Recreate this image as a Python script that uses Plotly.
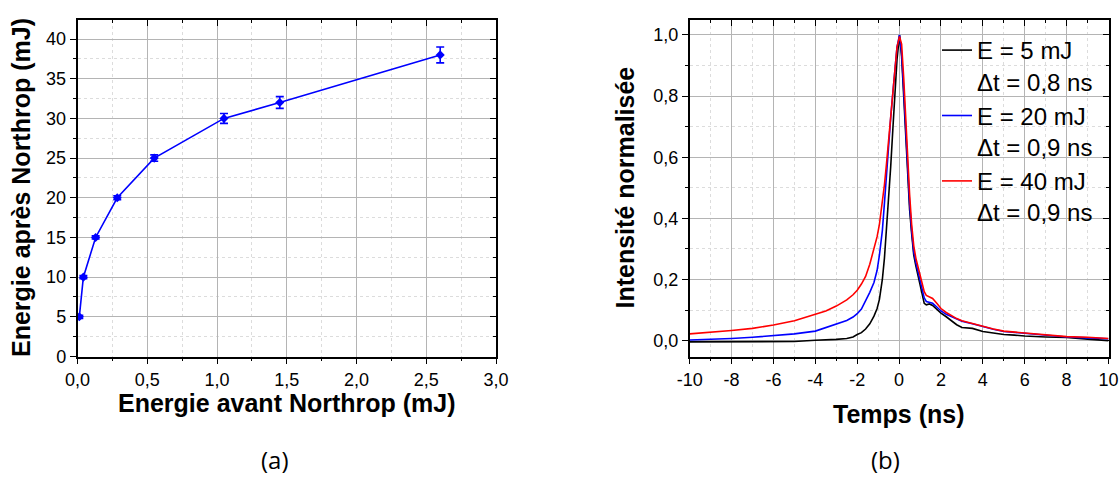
import plotly.graph_objects as go

# ---------------- Data: panel (a) ----------------
energie_avant = [0.013, 0.042, 0.13, 0.285, 0.55, 1.05, 1.45, 2.6]
energie_apres = [5, 10, 15, 20, 25, 30, 32, 38]
erreur_apres = [0.2, 0.2, 0.2, 0.25, 0.4, 0.62, 0.74, 1.0]

# ---------------- Data: panel (b) ----------------
temps = [-10, -9, -8, -7, -6, -5, -4, -3.5, -3, -2.5, -2.2, -2.0, -1.8, -1.6, -1.4,
         -1.2, -1.05, -0.94, -0.8, -0.7, -0.6, -0.5, -0.4, -0.3, -0.2, -0.1, 0.02,
         0.12, 0.22, 0.3, 0.4, 0.5, 0.6, 0.7, 0.8, 0.9, 1.0, 1.1, 1.2, 1.3, 1.45,
         1.6, 1.8, 2.0, 2.25, 2.5, 2.75, 3.0, 3.5, 4.0, 4.5, 5.0, 5.5, 6.0, 7.0,
         8.0, 9.0, 10.0]
int_5mJ = [-0.004, -0.004, -0.003, -0.003, -0.003, -0.003, 0.001, 0.002, 0.004, 0.007,
           0.012, 0.02, 0.026, 0.038, 0.055, 0.08, 0.105, 0.135, 0.2, 0.27, 0.36, 0.46,
           0.57, 0.69, 0.8, 0.92, 1.0, 0.93, 0.8, 0.68, 0.54, 0.43, 0.35, 0.28, 0.245,
           0.215, 0.19, 0.15, 0.122, 0.117, 0.12, 0.115, 0.102, 0.09, 0.078, 0.065,
           0.052, 0.043, 0.04, 0.03, 0.025, 0.02, 0.018, 0.015, 0.012, 0.01, 0.005, 0.0]
int_20mJ = [0.002, 0.004, 0.007, 0.011, 0.016, 0.022, 0.031, 0.042, 0.054, 0.066, 0.077,
            0.088, 0.103, 0.128, 0.158, 0.19, 0.23, 0.28, 0.36, 0.45, 0.55, 0.64, 0.73,
            0.81, 0.89, 0.96, 1.0, 0.94, 0.82, 0.7, 0.56, 0.45, 0.36, 0.29, 0.255,
            0.225, 0.2, 0.165, 0.14, 0.128, 0.124, 0.122, 0.11, 0.097, 0.086, 0.078,
            0.07, 0.063, 0.055, 0.045, 0.037, 0.03, 0.027, 0.022, 0.017, 0.012, 0.009,
            0.006]
int_40mJ = [0.022, 0.027, 0.033, 0.04, 0.051, 0.065, 0.086, 0.097, 0.113, 0.133, 0.15,
            0.165, 0.185, 0.21, 0.25, 0.3, 0.34, 0.38, 0.45, 0.51, 0.58, 0.66, 0.74,
            0.82, 0.9, 0.96, 0.995, 0.97, 0.86, 0.75, 0.6, 0.48, 0.38, 0.31, 0.27, 0.24,
            0.215, 0.185, 0.16, 0.148, 0.142, 0.138, 0.122, 0.105, 0.092, 0.082, 0.072,
            0.065, 0.056, 0.046, 0.038, 0.031, 0.028, 0.023, 0.018, 0.013, 0.011, 0.007]
noms_b = ["E = 5 mJ<br>Δt = 0,8 ns", "E = 20 mJ<br>Δt = 0,9 ns", "E = 40 mJ<br>Δt = 0,9 ns"]
couleurs_b = ["#000000", "#0000ff", "#ff0000"]
temps_ticks = [-10, -8, -6, -4, -2, 0, 2, 4, 6, 8, 10]
temps_labels = ["-10", "-8", "-6", "-4", "-2", "0", "2", "4", "6", "8", "10"]

W, H = 1120, 478
def px(x):
    return x / W
def py(y):
    return 1 - y / H

FONT = "Liberation Sans, Arial, sans-serif"

fig = go.Figure()

fig.add_trace(go.Scatter(
    x=energie_avant, y=energie_apres, mode="lines+markers",
    line=dict(color="#0000ff", width=1.6),
    marker=dict(symbol="diamond", size=7, color="#0000ff"),
    error_y=dict(type="data", array=erreur_apres, color="#0000ff", thickness=1.6, width=4),
    showlegend=False, xaxis="x", yaxis="y"))

for vals, nom, c in zip([int_5mJ, int_20mJ, int_40mJ], noms_b, couleurs_b):
    fig.add_trace(go.Scatter(x=temps, y=vals, mode="lines", name=nom,
                             line=dict(color=c, width=1.6), xaxis="x2", yaxis="y2"))

# empty traces so the overlay (mirror-tick) axes are drawn
fig.add_trace(go.Scatter(x=[], y=[], xaxis="x3", yaxis="y3", showlegend=False, hoverinfo="skip"))
fig.add_trace(go.Scatter(x=[], y=[], xaxis="x4", yaxis="y4", showlegend=False, hoverinfo="skip"))

dom_a = [px(77.5), px(496)]
dom_b = [px(689.7), px(1108.5)]
dom_y = [py(356.5), py(20)]

tickfont = dict(family=FONT, size=18, color="#000")
grid_major = "#b4b4b4"
grid_minor = "#dcdcdc"

def main_axis(rng, dtick, mdtick, dom, anchor, fmt=None):
    d = dict(range=rng, domain=dom, anchor=anchor, dtick=dtick, tick0=0,
             automargin=False,
             showline=True, linecolor="#000", linewidth=1.5, mirror=True,
             ticks="outside", ticklen=6, tickwidth=1.3, tickcolor="#000",
             tickfont=tickfont, showgrid=True, gridcolor=grid_major, gridwidth=1,
             zeroline=False,
             minor=dict(dtick=mdtick, ticks="outside", ticklen=3, tickwidth=1.2,
                        tickcolor="#000", showgrid=True, gridcolor=grid_minor,
                        griddash="dot", gridwidth=1))
    if fmt:
        d["tickformat"] = fmt
    return d

def mirror_axis(rng, dtick, mdtick, overlay, anchor, side):
    return dict(range=rng, overlaying=overlay, anchor=anchor, side=side, dtick=dtick,
                tick0=0, automargin=False, showline=False, ticks="inside", ticklen=6,
                tickwidth=1.3, tickcolor="#000", showticklabels=False, showgrid=False,
                zeroline=False,
                minor=dict(dtick=mdtick, ticks="inside", ticklen=3, tickwidth=1.2,
                           tickcolor="#000", showgrid=False))

xa_rng = [0, 3.0]
ya_rng = [0, 42.4]
xb_rng = [-10, 10]
yb_rng = [-0.052, 1.049]

xaxis2 = main_axis(xb_rng, 2, 1, dom_b, "y2")
xaxis2.update(tickmode="array", tickvals=temps_ticks, ticktext=temps_labels)

fig.update_layout(
    width=W, height=H, margin=dict(l=0, r=0, t=0, b=0, autoexpand=False),
    paper_bgcolor="white", plot_bgcolor="white", separators=", ",
    font=dict(family=FONT, color="#000"),
    xaxis=main_axis(xa_rng, 0.5, 0.25, dom_a, "y", ".1f"),
    yaxis=main_axis(ya_rng, 5, 2.5, dom_y, "x"),
    xaxis2=xaxis2,
    yaxis2=main_axis(yb_rng, 0.2, 0.1, dom_y, "x2", ".1f"),
    xaxis3=mirror_axis(xa_rng, 0.5, 0.25, "x", "y3", "top"),
    yaxis3=mirror_axis(ya_rng, 5, 2.5, "y", "x3", "right"),
    xaxis4=mirror_axis(xb_rng, 2, 1, "x2", "y4", "top"),
    yaxis4=mirror_axis(yb_rng, 0.2, 0.1, "y2", "x4", "right"),
    legend=dict(x=px(937), y=py(28), xanchor="left", yanchor="top",
                bgcolor="rgba(0,0,0,0)", font=dict(family=FONT, size=24, color="#000"),
                valign="top", tracegroupgap=0, itemwidth=30),
)

titre = dict(family=FONT, size=25, color="#000")
annots = [
    dict(text="<b>Energie avant Northrop (mJ)</b>", x=px(286.7), y=py(403)),
    dict(text="<b>Energie après Northrop (mJ)</b>", x=px(21), y=py(188), textangle=-90),
    dict(text="<b>Intensité normalisée</b>", x=px(624.5), y=py(188), textangle=-90),
    dict(text="<b>Temps (ns)</b>", x=px(899), y=py(414)),
]
for a in annots:
    fig.add_annotation(xref="paper", yref="paper", showarrow=False, font=titre,
                       xanchor="center", yanchor="middle", **a)
for t, x in [("(a)", 275), ("(b)", 885)]:
    fig.add_annotation(text=t, xref="paper", yref="paper", x=px(x), y=py(459),
                       showarrow=False, xanchor="center", yanchor="middle",
                       font=dict(family="Open Sans, sans-serif", size=24, color="#000"))

fig.write_html(
    "out.html",
    config={"displayModeBar": False},
    post_script="document.body.style.margin='0px';"
                "document.documentElement.style.overflow='hidden';",
)
